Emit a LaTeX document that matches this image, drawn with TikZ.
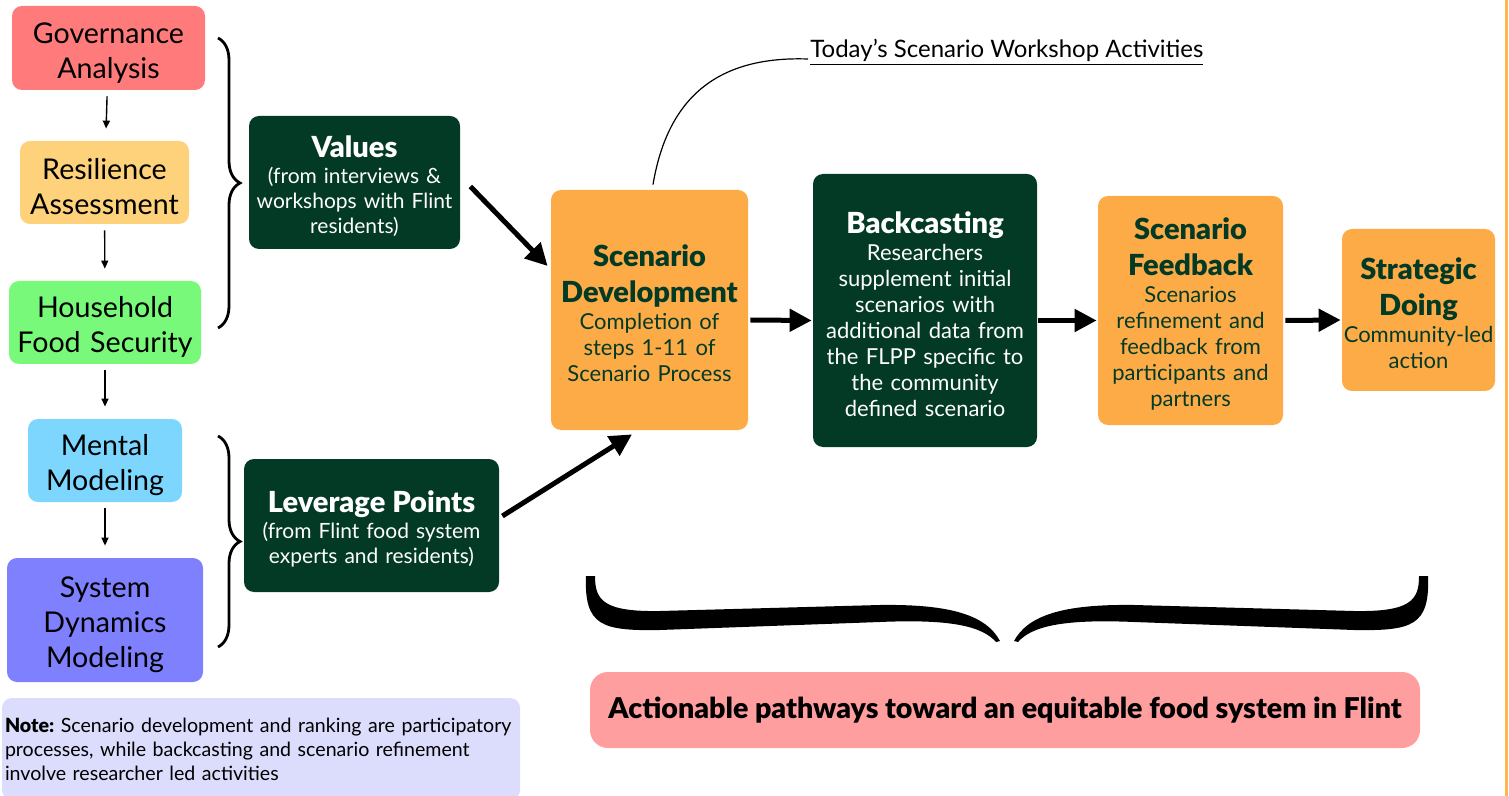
\documentclass[tikz,border=0pt]{standalone}
\usepackage{fontspec}
\setmainfont{Lato}[BoldFont={Lato Black}]
\frenchspacing
\usetikzlibrary{arrows.meta,decorations.pathreplacing,positioning}
\definecolor{govred}{HTML}{FF7B7B}
\definecolor{resyellow}{HTML}{FDD27A}
\definecolor{hfsgreen}{HTML}{78F97A}
\definecolor{mentalblue}{HTML}{7CD6FD}
\definecolor{sdmpurple}{HTML}{7F80FD}
\definecolor{flintgreen}{HTML}{033A25}
\definecolor{flintorange}{HTML}{FDAB47}
\definecolor{pathpink}{HTML}{FF9E9E}
\definecolor{notelilac}{HTML}{DCDCFC}
\definecolor{edgeorange}{HTML}{FFB64C}
\newcommand{\ttl}[1]{{\fontsize{14.5}{18}\selectfont\bfseries #1\par}\vspace{0.5pt}}
\tikzset{%
	leftbox/.style   = {rectangle, rounded corners=5pt, inner sep=0pt, align=center, font=\fontsize{14.3}{17.5}\selectfont, execute at begin node=\rule{0pt}{15pt}},
	greenbox/.style  = {rectangle, rounded corners=5pt, inner sep=0pt, fill=flintgreen, text=white, align=center, font=\fontsize{11}{13}\selectfont, execute at begin node=\rule{0pt}{14.5pt}},
	orangebox/.style = {greenbox, fill=flintorange, text=flintgreen},
	inputbox/.style  = {greenbox, font=\fontsize{10.5}{12.6}\selectfont},
	arrow/.style     = {line width=2.5pt, -{Triangle[length=11pt,width=11pt]}},
	thinarrow/.style = {line width=0.7pt, -{Triangle[length=4pt,width=3.5pt]}, shorten <=3pt, shorten >=6pt},
	bracestyle/.style= {line width=1.4pt, decorate, decoration={brace, amplitude=11pt}},
}
\begin{document}
\begin{tikzpicture}[x=0.5pt,y=-0.5pt]
	\useasboundingbox (0,0) rectangle (1509,796);
	
	% methods column
	\node[leftbox, fill=govred, minimum width=96.5pt, minimum height=42pt, text width=96.5pt] (gov) at (108.5,48) {Governance\\Analysis};
	\node[leftbox, fill=resyellow, minimum width=84.5pt, minimum height=41.5pt, text width=84.5pt] (res) at (104.5,182.5) {Resilience\\Assessment};
	\node[leftbox, fill=hfsgreen, minimum width=96pt, minimum height=41.5pt, text width=96pt] (hfs) at (105,322.5) {Household\\Food Security};
	\node[leftbox, fill=mentalblue, minimum width=77pt, minimum height=41.5pt, text width=77pt] (mm) at (105,460.5) {Mental\\Modeling};
	\node[leftbox, fill=sdmpurple, minimum width=98pt, minimum height=62pt, text width=98pt] (sdm) at (105,620) {System\\Dynamics\\Modeling};
	
	\draw[thinarrow] (gov) -- (res);
	\draw[thinarrow] (res) -- (hfs);
	\draw[thinarrow] (hfs) -- (mm);
	\draw[thinarrow] (mm) -- (sdm);
	
	\draw[bracestyle] (218,38) -- (218,328);
	\draw[bracestyle] (218,436) -- (218,647);
	
	% inputs
	\node[inputbox, minimum width=105.5pt, minimum height=66.5pt, text width=103pt] (values) at (354.5,182.5)
		{\ttl{Values}(from interviews \&\\workshops with Flint\\residents)};
	\node[inputbox, minimum width=127.5pt, minimum height=66.5pt, text width=125pt] (lev) at (371.5,525.5)
		{\ttl{Leverage Points}(from Flint food system\\experts and residents)};
	
	% scenario steps
	\node[orangebox, minimum width=98.5pt, minimum height=120pt, text width=96pt] (scen) at (649.5,310)
		{\ttl{Scenario\\Development}Completion of\\steps 1-11 of\\Scenario Process};
	\node[greenbox, minimum width=112pt, minimum height=136.5pt, text width=110pt] (back) at (925,310.5)
		{\ttl{Backcasting}Researchers\\supplement initial\\scenarios with\\additional data from\\the FLPP specific to\\the community\\defined scenario};
	\node[orangebox, minimum width=92.5pt, minimum height=114.5pt, text width=90pt] (feed) at (1190.5,310.5)
		{\ttl{Scenario\\Feedback}Scenarios\\refinement and\\feedback from\\participants and\\partners};
	\node[orangebox, minimum width=76.5pt, minimum height=81pt, text width=76pt] (strat) at (1418.5,310)
		{\ttl{Strategic\\Doing}Community-led\\action};
	
	\draw[arrow] ([xshift=5pt,yshift=-2pt]values.east) -- ([xshift=-1.5pt,yshift=22pt]scen.west);
	\draw[arrow] ([xshift=1.5pt,yshift=4.75pt]lev.east) -- ([xshift=-8.75pt,yshift=-2pt]scen.south);
	\draw[arrow] ([xshift=1pt,yshift=-5pt]scen.east) -- ([xshift=-0.5pt,yshift=-5pt]back.west);
	\draw[arrow] ([xshift=0.5pt,yshift=-5pt]back.east) -- ([xshift=-0.5pt,yshift=-5pt]feed.west);
	\draw[arrow] ([xshift=1pt,yshift=-5pt]feed.east) -- ([xshift=-0.5pt,yshift=-5pt]strat.west);
	
	% workshop label
	\node[anchor=west, inner sep=1pt, font=\fontsize{12}{14}\selectfont] (today) at (808,52) {\underline{Today’s Scenario Workshop Activities}};
	\draw[line width=0.6pt] ([xshift=1.75pt,yshift=2.5pt]scen.north) .. controls (668,95) and (720,56) .. ([yshift=-3.5pt]today.west);
	
	% outcome brace
	\fill (586,576) .. controls (584,626) and (602,631) .. (660,630) -- (880,622)
		.. controls (950,619) and (982,626) .. (996,642) -- (1000,641)
		.. controls (986,615) and (950,604) .. (880,605) -- (660,611)
		.. controls (603,612) and (595,600) .. (595,576) -- cycle;
	\begin{scope}[shift={(2014,0)}, xscale=-1]
		\fill (586,576) .. controls (584,626) and (602,631) .. (660,630) -- (880,622)
			.. controls (950,619) and (982,626) .. (996,642) -- (1000,641)
			.. controls (986,615) and (950,604) .. (880,605) -- (660,611)
			.. controls (603,612) and (595,600) .. (595,576) -- cycle;
	\end{scope}
	
	\node[rectangle, rounded corners=9pt, fill=pathpink, minimum width=415pt, minimum height=38pt, font=\fontsize{14.3}{17}\selectfont\bfseries] (paths) at (1005,710)
		{Actionable pathways toward an equitable food system in Flint};
	
	% note
	\node[rectangle, rounded corners=5pt, fill=notelilac, minimum width=259pt, minimum height=51pt, text width=256pt, inner xsep=1.5pt, align=left, font=\fontsize{9.8}{12}\selectfont] (note) at (261,749)
		{\textbf{Note:} Scenario development and ranking are participatory\\processes, while backcasting and scenario refinement\\involve researcher led activities};
	
	\draw[edgeorange, line width=1.5pt] (1506,0) -- (1506,796);
\end{tikzpicture}
\end{document}
